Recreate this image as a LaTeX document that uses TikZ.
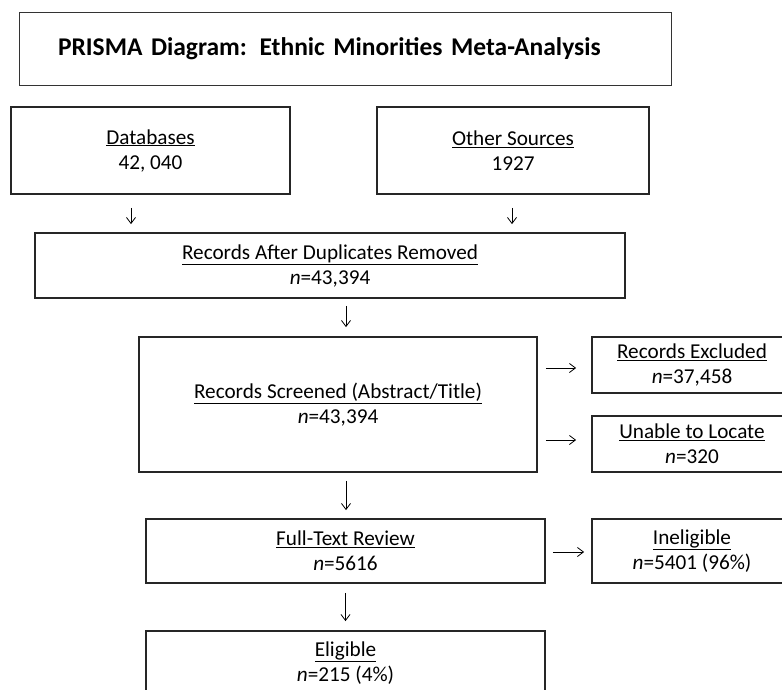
\documentclass[tikz,border=0pt]{standalone}
\usepackage{fontspec}
\setmainfont{Carlito}
\usetikzlibrary{arrows.meta}
\begin{document}
\begin{tikzpicture}[x=1pt, y=-1pt,
	box/.style={draw=black!85, line width=1.8pt, align=center, inner sep=0pt, font=\fontsize{21.2}{25}\selectfont},
	arr/.style={line width=0.8pt, -{Straight Barb[length=6pt, width=9pt]}}]
	\useasboundingbox (0, 0) rectangle (782, 689);

	\node[draw=black!80, line width=1pt, minimum width=652pt, minimum height=73pt, inner xsep=39pt, text width=574pt, align=left, font=\fontsize{25.5}{30}\selectfont\bfseries] (title) at (345, 48.5) {PRISMA Diagram: Ethnic Minorities Meta-Analysis};

	\node[box, minimum width=279pt, minimum height=87pt] (db) at (150.5, 150.5) {\underline{Databases}\\42, 040};
	\node[box, minimum width=272pt, minimum height=87pt] (other) at (513, 150.5) {\underline{Other Sources}\\1927};
	\node[box, minimum width=590pt, minimum height=65pt] (after) at (330, 265.5) {\underline{Records After Duplicates Removed}\\\textit{n}=43,394};
	\node[box, minimum width=398pt, minimum height=135pt] (screen) at (338, 404.5) {\underline{Records Screened (Abstract/Title)}\\\textit{n}=43,394};
	\node[box, minimum width=200pt, minimum height=56pt] (excl) at (692, 365) {\underline{Records Excluded}\\\textit{n}=37,458};
	\node[box, minimum width=200pt, minimum height=56pt] (unable) at (692, 444) {\underline{Unable to Locate}\\\textit{n}=320};
	\node[box, minimum width=399pt, minimum height=64pt] (full) at (345.5, 551) {\underline{Full-Text Review}\\\textit{n}=5616};
	\node[box, minimum width=200pt, minimum height=64pt] (inel) at (692, 551) {\underline{Ineligible}\\\textit{n}=5401 (96\%)};
	\node[box, minimum width=399pt, minimum height=64pt] (elig) at (345.5, 663) {\underline{Eligible}\\\textit{n}=215 (4\%)};

	\draw[arr, shorten <=13pt, shorten >=8pt] ([xshift=-19.5pt]db.south) -- ([xshift=-19.5pt]db.south |- after.north);
	\draw[arr, shorten <=13pt, shorten >=8pt] ([xshift=-1pt]other.south) -- ([xshift=-1pt]other.south |- after.north);
	\draw[arr, shorten <=7pt, shorten >=9pt] ([xshift=16pt]after.south) -- ([xshift=16pt]after.south |- screen.north);
	\draw[arr, shorten <=8pt, shorten >=15pt] ([yshift=-3pt]screen.east |- excl.west) -- ([yshift=-3pt]excl.west);
	\draw[arr, shorten <=8pt, shorten >=15pt] ([yshift=4pt]screen.east |- unable.west) -- ([yshift=4pt]unable.west);
	\draw[arr, shorten <=8pt, shorten >=8pt] ([xshift=8pt]screen.south) -- ([xshift=8pt]screen.south |- full.north);
	\draw[arr, shorten <=7pt, shorten >=7pt] ([yshift=-1pt]full.east) -- ([yshift=-1pt]inel.west);
	\draw[arr, shorten <=9pt, shorten >=9pt] (full.south) -- (elig.north);
\end{tikzpicture}
\end{document}
